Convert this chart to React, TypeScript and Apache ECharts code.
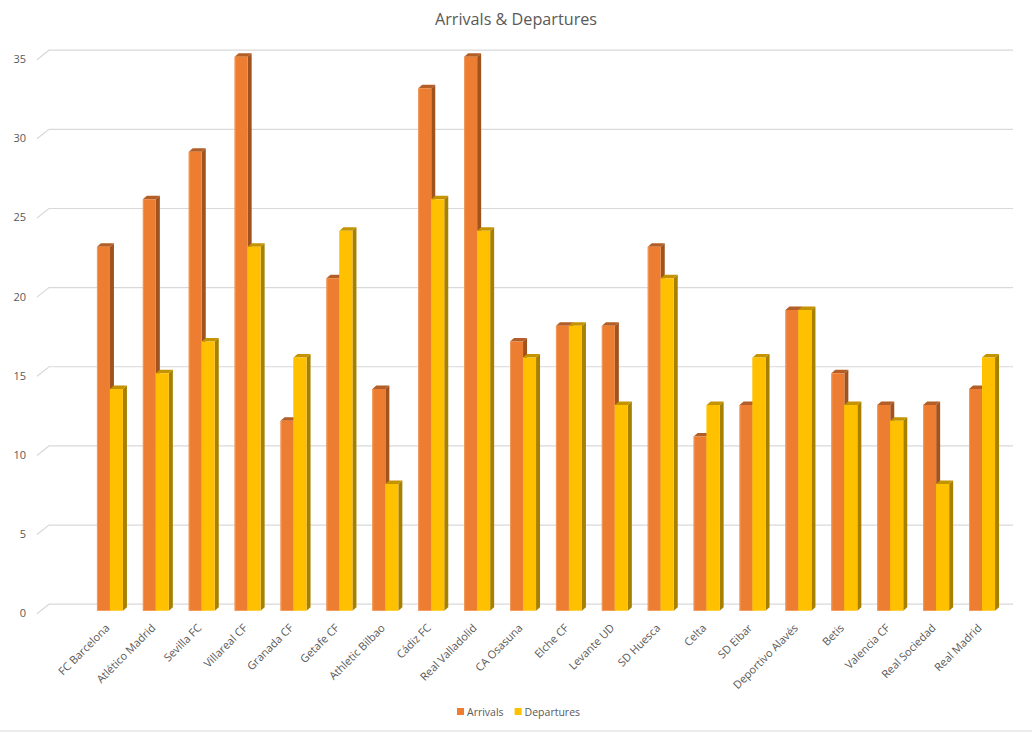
import React, { useEffect, useRef } from "react";
import * as echarts from "echarts";

const title = "Arrivals & Departures";
const categories = ["FC Barcelona", "Atlético Madrid", "Sevilla FC", "Villareal CF", "Granada CF", "Getafe CF", "Athletic Bilbao", "Cádiz FC", "Real Valladolid", "CA Osasuna", "Elche CF", "Levante UD", "SD Huesca", "Celta", "SD Eibar", "Deportivo Alavés", "Betis", "Valencia CF", "Real Sociedad", "Real Madrid"];
const arrivals = [23, 26, 29, 35, 12, 21, 14, 33, 35, 17, 18, 18, 23, 11, 13, 19, 15, 13, 13, 14];
const departures = [14, 15, 17, 23, 16, 24, 8, 26, 24, 16, 18, 13, 21, 13, 16, 19, 13, 12, 8, 16];
const ticks = [0, 5, 10, 15, 20, 25, 30, 35];

const FONT = "'Open Sans', sans-serif";
const TEXT = "#595959";
const GRID = "#D9D9D9";
const DX = 4, DY = 3.5;

const barRender = (side: number, front: string, sideC: string, topC: string, edge: string) => (params: any, api: any) => {
  const idx = api.value(0);
  const [cx, yTop] = api.coord([idx, api.value(1)]);
  const [, yBase] = api.coord([idx, 0]);
  const w = 13;
  const x0 = side < 0 ? cx - w : cx;
  const x1 = x0 + w;
  const poly = (points: number[][], fill: string) => ({ type: "polygon", shape: { points }, style: { fill, stroke: null } });
  return {
    type: "group",
    children: [
      poly([[x1, yTop], [x1 + DX, yTop - DY], [x1 + DX, yBase - DY], [x1, yBase]], sideC),
      poly([[x0, yTop], [x0 + DX, yTop - DY], [x1 + DX, yTop - DY], [x1, yTop]], topC),
      poly([[x0, yTop], [x1, yTop], [x1, yBase], [x0, yBase]], front),
      { type: "rect", shape: { x: x0, y: yTop, width: 1, height: yBase - yTop }, style: { fill: edge, stroke: null } },
    ],
  };
};

const wallRender = (params: any, api: any) => {
  const [, y] = api.coord([0, api.value(0)]);
  const cs = params.coordSys;
  const backY = y - 6.5;
  return {
    type: "polyline",
    shape: { points: [[cs.x - 50, backY + 9.5], [cs.x - 38, backY], [cs.x + cs.width + 8, backY]] },
    style: { stroke: GRID, lineWidth: 1.2, fill: null },
  };
};

export default function App() {
  const ref = useRef<HTMLDivElement>(null);
  useEffect(() => {
    const chart = echarts.init(ref.current!, undefined, { renderer: "svg" });
    chart.setOption({
      animation: false,
      backgroundColor: "#fff",
      title: { text: title, left: "center", top: 6, textStyle: { fontFamily: FONT, fontSize: 16.2, fontWeight: "normal", color: TEXT } },
      legend: {
        left: 452, top: 701, itemWidth: 7, itemHeight: 7, itemGap: 11,
        icon: "rect",
        data: ["Arrivals", "Departures"],
        textStyle: { fontFamily: FONT, fontSize: 10.5, color: TEXT, padding: [0, 0, 0, -2] },
      },
      grid: { left: 87, width: 918, top: 56.7, height: 554 },
      xAxis: {
        type: "category", data: categories,
        axisLine: { show: false }, axisTick: { show: false }, splitLine: { show: false },
        axisLabel: { interval: 0, rotate: 45, margin: 12, fontFamily: FONT, fontSize: 11, color: TEXT, padding: [0, 4, 0, 0] },
      },
      yAxis: {
        type: "value", min: 0, max: 35, interval: 5,
        axisLine: { show: false }, axisTick: { show: false }, splitLine: { show: false },
        axisLabel: {
          margin: 61, color: TEXT,
          formatter: "{a|{value}}",
          rich: { a: { fontFamily: FONT, fontSize: 11, color: TEXT, padding: [4, 0, 0, 0] } },
        },
      },
      series: [
        { type: "custom", name: "wall", silent: true, z: 1, data: ticks.map((t) => [t]), encode: { y: 0 }, renderItem: wallRender },
        { type: "custom", name: "Arrivals", z: 2, itemStyle: { color: "#ED7D31" }, data: arrivals.map((v, i) => [i, v]), encode: { x: 0, y: 1 }, renderItem: barRender(-1, "#ED7D31", "#A0521F", "#B25E26", "#F19A5F") },
        { type: "custom", name: "Departures", z: 3, itemStyle: { color: "#FFC000" }, data: departures.map((v, i) => [i, v]), encode: { x: 0, y: 1 }, renderItem: barRender(1, "#FFC000", "#A88000", "#C49300", "#FFC000") },
      ],
      graphic: [
        { type: "line", shape: { x1: 0, y1: 731, x2: 1032, y2: 731 }, style: { stroke: GRID, lineWidth: 1 } },
      ],
    });
    return () => chart.dispose();
  }, []);
  return <div ref={ref} style={{ position: "absolute", left: 0, top: 0, width: 1032, height: 732 }} />;
}
